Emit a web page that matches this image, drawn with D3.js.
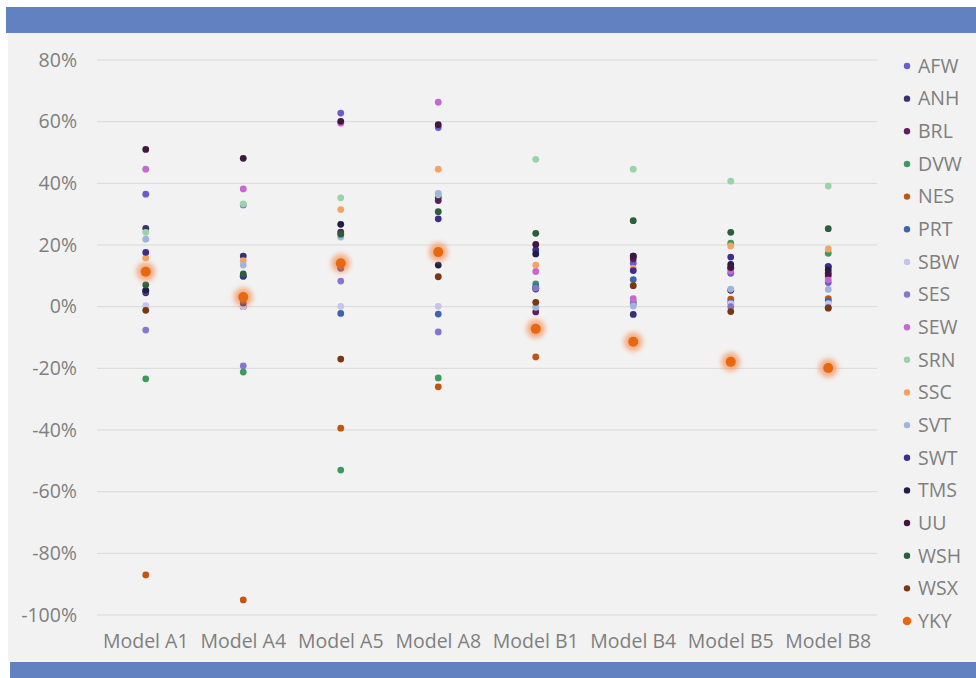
<!DOCTYPE html>
<html>
<head>
<meta charset="utf-8">
<title>Model scatter</title>
<style>
  body { margin: 0; background: #fff; }
  text { font-family: "Open Sans", "Noto Sans", sans-serif; fill: #7f7f7f; }
</style>
</head>
<body>
<script src="https://d3js.org/d3.v7.min.js"></script>
<script>
// --- data ---
const models = ["Model A1", "Model A4", "Model A5", "Model A8", "Model B1", "Model B4", "Model B5", "Model B8"];
const seriesNames = ["AFW","ANH","BRL","DVW","NES","PRT","SBW","SES","SEW","SRN","SSC","SVT","SWT","TMS","UU","WSH","WSX","YKY"];
const AFW = [36.5, 33.0, 62.8, 58.1, 6.0, 14.1, 10.8, 7.8];
const ANH = [25.4, 16.4, 12.5, 35.4, 5.7, -2.5, 5.3, 13.0];
const BRL = [4.5, 0.0, 24.2, 34.4, -1.7, 15.5, 12.5, 10.0];
const DVW = [-23.4, -21.2, -53.0, -23.1, 7.4, 1.6, 20.6, 17.3];
const NES = [-87.0, -95.1, -39.4, -26.0, -16.3, -11.0, 2.4, 2.6];
const PRT = [5.0, 9.9, -2.2, -2.4, 6.5, 8.8, 1.3, 1.8];
const SBW = [0.3, 0.0, 0.1, 0.1, 0.0, 0.5, 1.0, 1.0];
const SES = [-7.6, -19.2, 8.3, -8.2, 6.0, 1.0, 0.0, -0.2];
const SEW = [44.6, 38.2, 59.5, 66.3, 11.4, 2.6, 11.6, 8.7];
const SRN = [24.1, 33.3, 35.3, 36.3, 47.8, 44.6, 40.7, 39.1];
const SSC = [15.8, 14.9, 31.5, 44.6, 13.5, 12.4, 19.7, 18.7];
const SVT = [21.9, 13.5, 22.6, 36.7, -0.2, 0.2, 5.7, 5.6];
const SWT = [17.6, 9.9, 12.7, 28.5, 18.4, 11.7, 16.1, 13.0];
const TMS = [5.3, 1.2, 26.7, 13.5, 17.1, 16.4, 13.7, 11.9];
const UU  = [51.0, 48.1, 60.1, 59.0, 20.2, 16.4, 12.7, 10.8];
const WSH = [7.1, 10.6, 23.5, 30.8, 23.8, 27.9, 24.1, 25.3];
const WSX = [-1.2, 2.5, -17.0, 9.7, 1.4, 6.8, -1.6, -0.5];
const YKY = [11.3, 3.1, 14.1, 17.7, -7.2, -11.4, -17.9, -19.9];
const yTicks = [-100, -80, -60, -40, -20, 0, 20, 40, 60, 80];

const seriesValues = [AFW, ANH, BRL, DVW, NES, PRT, SBW, SES, SEW, SRN, SSC, SVT, SWT, TMS, UU, WSH, WSX, YKY];
const colors = ["#6b5bd0","#3b2f6e","#5c1f5e","#3d9a5f","#c0560f","#3f64ac","#c6c3ec","#8577cc","#c767d1",
                "#98d4a8","#f5a264","#a0b4e0","#3b2e8f","#211d45","#40183f","#2c5e3c","#7a3710","#e8680f"];

const W = 976, H = 678;
const svg = d3.select("body").append("svg").attr("width", W).attr("height", H);

// background + bands
svg.append("rect").attr("x", 8).attr("y", 33).attr("width", W - 8).attr("height", 629).attr("fill", "#f2f2f2");
svg.append("rect").attr("x", 6).attr("y", 7).attr("width", W - 6).attr("height", 26).attr("fill", "#6281c0");
svg.append("rect").attr("x", 10).attr("y", 662).attr("width", W - 10).attr("height", 16).attr("fill", "#6281c0");

const defs = svg.append("defs");
defs.append("filter").attr("id", "glow").attr("x", "-100%").attr("y", "-100%").attr("width", "300%").attr("height", "300%")
  .append("feGaussianBlur").attr("stdDeviation", 2.6);

const x = d3.scaleBand().domain(models).range([97, 877]);
const y = d3.scaleLinear().domain([-100, 80]).range([615, 60]);

// grid
svg.append("g").selectAll("line").data(yTicks).enter().append("line")
  .attr("x1", 97).attr("x2", 877)
  .attr("y1", d => y(d)).attr("y2", d => y(d))
  .attr("stroke", "#d9d9d9").attr("stroke-width", 1);

// y labels
svg.append("g").selectAll("text").data(yTicks).enter().append("text")
  .attr("x", 77).attr("y", d => y(d)).attr("dy", "0.35em")
  .attr("text-anchor", "end").attr("font-size", 19.5)
  .text(d => d + "%");

// x labels
svg.append("g").selectAll("text").data(models).enter().append("text")
  .attr("x", d => x(d) + x.bandwidth() / 2).attr("y", 641).attr("dy", "0.35em")
  .attr("text-anchor", "middle").attr("font-size", 19.5)
  .text(d => d);

// points
seriesNames.forEach((name, i) => {
  const g = svg.append("g");
  const pts = seriesValues[i].map((v, j) => ({ m: models[j], v: v }));
  if (name === "YKY") {
    g.selectAll("circle.glow").data(pts).enter().append("circle")
      .attr("class", "glow")
      .attr("cx", d => x(d.m) + x.bandwidth() / 2).attr("cy", d => y(d.v))
      .attr("r", 9.5).attr("fill", "#f4915a").attr("opacity", 0.7)
      .attr("filter", "url(#glow)");
  }
  g.selectAll("circle.dot").data(pts).enter().append("circle")
    .attr("class", "dot")
    .attr("cx", d => x(d.m) + x.bandwidth() / 2).attr("cy", d => y(d.v))
    .attr("r", name === "YKY" ? 5 : 3.4)
    .attr("fill", colors[i]);
});

// legend
const leg = svg.append("g");
const legY = d3.scalePoint().domain(seriesNames).range([66, 621]);
seriesNames.forEach((name, i) => {
  leg.append("circle").attr("cx", 907).attr("cy", legY(name))
    .attr("r", name === "YKY" ? 4.3 : 3.2).attr("fill", colors[i]);
  leg.append("text").attr("x", 918).attr("y", legY(name)).attr("dy", "0.35em")
    .attr("font-size", 19.5).text(name);
});
</script>
</body>
</html>
